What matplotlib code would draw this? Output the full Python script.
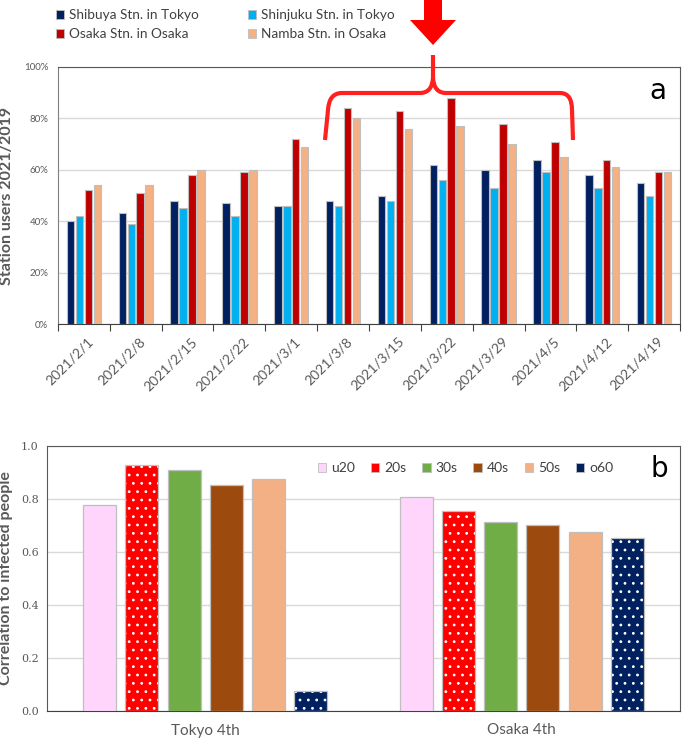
import matplotlib
matplotlib.use("Agg")
import matplotlib.pyplot as plt
import numpy as np
from matplotlib.patches import Patch, Polygon, PathPatch
from matplotlib.path import Path

plt.rcParams['font.family'] = ['Lato', 'DejaVu Sans']
plt.rcParams['hatch.linewidth'] = 0.8

# ---------------- data ----------------
dates = ["2021/2/1", "2021/2/8", "2021/2/15", "2021/2/22", "2021/3/1", "2021/3/8",
         "2021/3/15", "2021/3/22", "2021/3/29", "2021/4/5", "2021/4/12", "2021/4/19"]
shibuya = [40, 43, 48, 47, 46, 48, 50, 62, 60, 64, 58, 55]
shinjuku = [42, 39, 45, 42, 46, 46, 48, 56, 53, 59, 53, 50]
osaka = [52, 51, 58, 59, 72, 84, 83, 88, 78, 71, 64, 59]
namba = [54, 54, 60, 60, 69, 80, 76, 77, 70, 65, 61, 59]
station_names = ["Shibuya Stn. in Tokyo", "Shinjuku Stn. in Tokyo",
                 "Osaka Stn. in Osaka", "Namba Stn. in Osaka"]
station_colors = ["#002060", "#00B0F0", "#C00000", "#F4B183"]

waves = ["Tokyo 4th", "Osaka 4th"]
age_groups = ["u20", "20s", "30s", "40s", "50s", "o60"]
tokyo_corr = [0.777, 0.928, 0.909, 0.853, 0.876, 0.075]
osaka_corr = [0.808, 0.756, 0.713, 0.702, 0.675, 0.653]
age_colors = ["#FFD5FC", "#FF0000", "#70AD47", "#9C4A0E", "#F2B084", "#002060"]
age_dotted = [False, True, False, False, False, True]

W, H = 685, 742
fig = plt.figure(figsize=(W / 100, H / 100), dpi=100)

def fx(px):
    return px / W

def fy(py):
    return 1 - py / H

gray_txt = "#595959"

# ---------------- top chart ----------------
ax1 = fig.add_axes([fx(58), fy(324), fx(680) - fx(58), fy(67) - fy(324)])
x = np.arange(len(dates))
series = [shibuya, shinjuku, osaka, namba]
bw = 0.145
step = 0.172
for i, (vals, col) in enumerate(zip(series, station_colors)):
    off = (i - 1.5) * step
    ax1.bar(x + off, vals, width=bw, color=col, edgecolor="#BFBFBF", linewidth=0.8,
            zorder=3)
ax1.set_xlim(-0.5, len(dates) - 0.5)
ax1.set_ylim(0, 100)
ax1.set_yticks(np.arange(0, 101, 20))
ax1.set_yticklabels([f"{v}%" for v in range(0, 101, 20)], fontsize=7, color=gray_txt)
ax1.yaxis.grid(True, color="#D9D9D9", linewidth=1, zorder=0)
ax1.tick_params(axis="y", length=0, pad=7)
ax1.set_xticks(np.arange(-0.5, len(dates) + 0.5, 1))
ax1.set_xticklabels([])
ax1.tick_params(axis="x", which="major", length=5, color="#404040", direction="out")
ax1.set_xticks(x + 0.06, minor=True)
ax1.set_xticklabels(dates, minor=True, rotation=45, ha="right", rotation_mode="anchor",
                    fontsize=10, color=gray_txt)
ax1.tick_params(axis="x", which="minor", length=0, pad=8)
for s in ["top", "right"]:
    ax1.spines[s].set_color("#595959")
ax1.spines["left"].set_color("#7F7F7F")
ax1.spines["bottom"].set_color("#404040")
ax1.set_ylabel("Station users 2021/2019", fontsize=11.5, fontweight="bold", color=gray_txt,
               labelpad=7)
ax1.text(0.965, 0.905, "a", transform=ax1.transAxes, fontsize=20, ha="center",
         va="center", family="DejaVu Sans")

order = [0, 2, 1, 3]
handles = [Patch(facecolor=station_colors[k], edgecolor="#BFBFBF", linewidth=0.6)
           for k in order]
fig.legend(handles, [station_names[k] for k in order], loc="upper left",
           bbox_to_anchor=(fx(56), fy(9)), borderpad=0, borderaxespad=0,
           ncol=2, frameon=False, fontsize=9.8, handlelength=0.6, handleheight=0.6,
           handletextpad=0.35, columnspacing=3.6, labelspacing=0.55,
           labelcolor="#404040")

# red arrow and brace
arrow_pts = [(424, 0), (442, 0), (442, 20), (456, 20), (433, 45), (410, 20), (424, 20)]
fig.add_artist(Polygon([(fx(a), fy(b)) for a, b in arrow_pts], closed=True,
                       facecolor="#FF0000", edgecolor="none", transform=fig.transFigure))
verts = [(325, 140), (328, 110), (329, 93), (342, 93), (420, 93), (432, 93), (433, 78),
         (433, 55),
         (433, 78), (434, 93), (446, 93), (560, 93), (572, 93), (572, 110), (573, 140)]
codes = [Path.MOVETO, Path.LINETO, Path.CURVE3, Path.CURVE3, Path.LINETO, Path.CURVE3,
         Path.CURVE3, Path.LINETO,
         Path.MOVETO, Path.CURVE3, Path.CURVE3, Path.LINETO, Path.CURVE3, Path.CURVE3,
         Path.LINETO]
brace = Path([(fx(a), fy(b)) for a, b in verts], codes)
fig.add_artist(PathPatch(brace, facecolor="none", edgecolor="#FF2020", linewidth=3,
                         transform=fig.transFigure, capstyle="butt"))

# ---------------- bottom chart ----------------
ax2 = fig.add_axes([fx(47), fy(711), fx(680) - fx(47), fy(446) - fy(711)])
xg = np.arange(len(waves))
bw2 = 0.105
step2 = 0.1335
for i, ag in enumerate(age_groups):
    off = (i - 2.5) * step2
    vals = [tokyo_corr[i], osaka_corr[i]]
    if age_dotted[i]:
        ax2.bar(xg + off, vals, width=bw2, color=age_colors[i], edgecolor="white",
                hatch="..", linewidth=0, zorder=3)
        ax2.bar(xg + off, vals, width=bw2, fill=False, edgecolor="#BFBFBF",
                linewidth=0.9, zorder=4)
    else:
        ax2.bar(xg + off, vals, width=bw2, color=age_colors[i], edgecolor="#BFBFBF",
                linewidth=0.9, zorder=3)
ax2.set_xlim(-0.5, len(waves) - 0.5)
ax2.set_ylim(0, 1.0)
ax2.set_yticks(np.arange(0, 1.01, 0.2))
ax2.set_yticklabels([f"{v:.1f}" for v in np.arange(0, 1.01, 0.2)], fontsize=8,
                    color=gray_txt, family="DejaVu Serif")
ax2.tick_params(axis="y", length=0, pad=6)
ax2.yaxis.grid(True, color="#D9D9D9", linewidth=1, zorder=0)
ax2.set_xticks(xg)
ax2.set_xticklabels(waves, fontsize=11, color=gray_txt)
ax2.tick_params(axis="x", length=0, pad=9)
for s in ["top", "right", "left"]:
    ax2.spines[s].set_color("#595959")
ax2.spines["bottom"].set_color("#404040")
ax2.set_ylabel("Correlation to infected people", fontsize=11.5, fontweight="bold",
               color=gray_txt, labelpad=6)
ax2.text(0.968, 0.915, "b", transform=ax2.transAxes, fontsize=20, ha="center",
         va="center", family="DejaVu Sans")
handles2 = [Patch(facecolor=c, edgecolor="#BFBFBF", linewidth=0.6) for c in age_colors]
ax2.legend(handles2, age_groups, loc="center left", bbox_to_anchor=(0.428, 0.917),
           borderpad=0, borderaxespad=0,
           ncol=6, frameon=False, fontsize=10, handlelength=0.6, handleheight=0.6,
           handletextpad=0.35, columnspacing=1.15, labelcolor="#404040")

fig.savefig("out.png", dpi=100)
